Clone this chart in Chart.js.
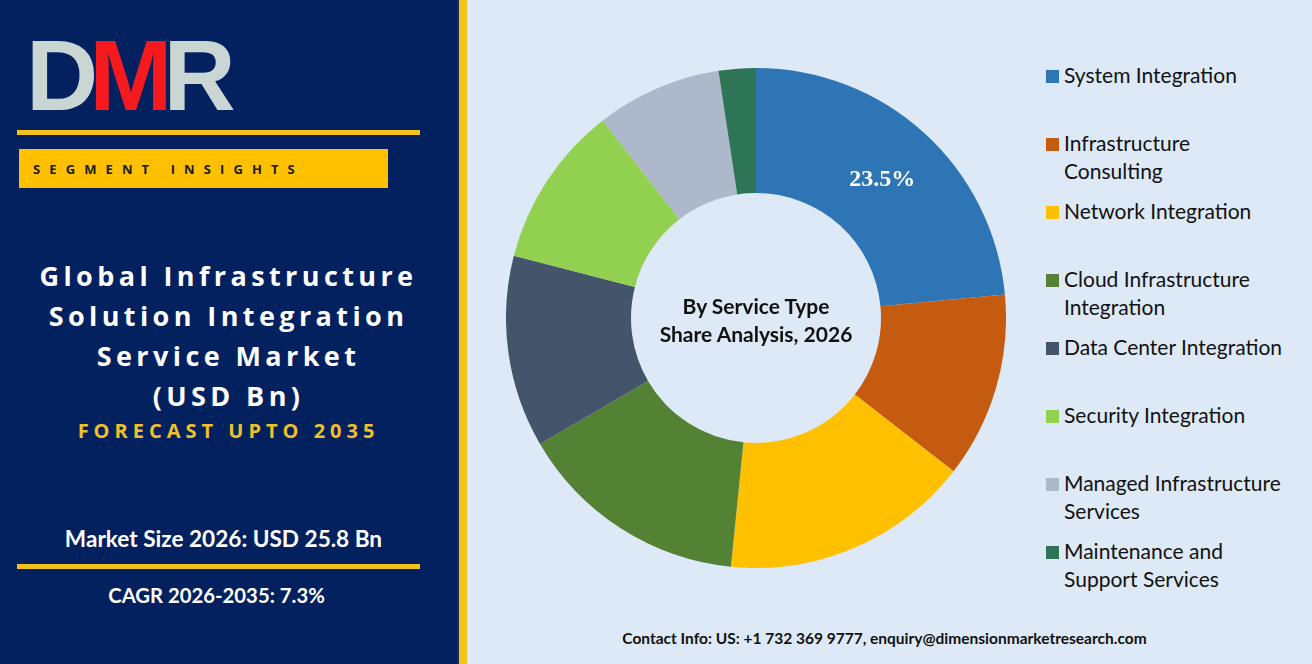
<!DOCTYPE html>
<html>
<head>
<meta charset="utf-8">
<script src="https://cdn.jsdelivr.net/npm/chart.js@4.4.1/dist/chart.umd.min.js"></script>
<style>
  html, body { margin: 0; padding: 0; }
  body { width: 1312px; height: 664px; position: relative; overflow: hidden; background: #dde9f6; font-family: Lato, "Open Sans", sans-serif; }
  #left { position: absolute; left: 0; top: 0; width: 457px; height: 664px; background: #03205f; }
  #edge { position: absolute; left: 457px; top: 0; width: 2px; height: 664px; background: #1d2a4a; }
  #goldbar { position: absolute; left: 459px; top: 0; width: 8px; height: 664px; background: #f5c216; }
  #logo { position: absolute; left: 26px; top: 20px; font-family: "Liberation Sans", Arial, sans-serif; font-weight: bold; font-size: 100px; letter-spacing: -9px; line-height: 110px; }
  .line { position: absolute; left: 17px; width: 403px; height: 5px; background: #f4c21c; }
  #seg { position: absolute; left: 19px; top: 149px; width: 369px; height: 39px; background: #ffc000; }
  #seg span { position: absolute; left: 14px; top: 11px; font-family: "Open Sans", sans-serif; font-weight: bold; font-size: 13px; letter-spacing: 9.1px; color: #1a1a1a; }
  #title { position: absolute; left: 0; width: 457px; top: 256px; text-align: center; color: #fff; font-family: "Open Sans", sans-serif; font-weight: bold; font-size: 27px; letter-spacing: 4.4px; line-height: 40px; }
  #forecast { position: absolute; left: 0; width: 457px; top: 417px; text-align: center; color: #f0c02a; font-family: "Open Sans", sans-serif; font-weight: bold; font-size: 20px; letter-spacing: 5px; }
  .stat { position: absolute; left: 0; width: 447px; text-align: center; color: #fff; font-weight: bold; }
  #chartBox { position: absolute; left: 506px; top: 68px; width: 500px; height: 500px; }
  #center { position: absolute; left: 606px; width: 300px; top: 292px; text-align: center; font-weight: bold; font-size: 21px; line-height: 28px; color: #111; }
  #legend { position: absolute; left: 1046px; top: 61px; }
  .item { position: relative; height: 68px; }
  .item i { position: absolute; left: 0; top: 9px; width: 13px; height: 13px; }
  .item div { position: absolute; left: 18px; top: 0; font-size: 21px; line-height: 28px; color: #111; white-space: nowrap; }
  #contact { position: absolute; left: 457px; width: 855px; top: 629px; text-align: center; font-weight: bold; font-size: 15.5px; color: #111; }
</style>
</head>
<body>
<div id="left"></div>
<div id="edge"></div>
<div id="goldbar"></div>
<div id="logo"><span style="color:#c9d6d4">D</span><span style="color:#f41a1e">M</span><span style="color:#c9d6d4">R</span></div>
<div class="line" style="top:130px"></div>
<div id="seg"><span>SEGMENT INSIGHTS</span></div>
<div id="title">Global Infrastructure<br>Solution Integration<br>Service Market<br>(USD Bn)</div>
<div id="forecast">FORECAST UPTO 2035</div>
<div class="stat" style="top:525px; font-size:22.6px">Market Size 2026: USD 25.8 Bn</div>
<div class="line" style="top:564px"></div>
<div class="stat" style="top:583px; left:-7px; font-size:20.3px">CAGR 2026-2035: 7.3%</div>

<div id="chartBox"><canvas id="donut"></canvas></div>
<div id="center">By Service Type<br>Share Analysis, 2026</div>
<div id="legend"></div>
<div id="contact">Contact Info: US: +1 732 369 9777, enquiry@dimensionmarketresearch.com</div>

<script>
// segment names (legend lines split with |)
var segments = [
  "System Integration",
  "Infrastructure|Consulting",
  "Network Integration",
  "Cloud Infrastructure|Integration",
  "Data Center Integration",
  "Security Integration",
  "Managed Infrastructure|Services",
  "Maintenance and|Support Services"
];

// share in %, 2026 (only the first one is printed)
var shares = [23.5, 12.0, 16.1, 15.0, 12.4, 10.5, 8.1, 2.4];

var colors = ["#2e75b6", "#c55a11", "#ffc000", "#548235", "#44546a", "#92d050", "#adb9ca", "#2e7557"];

// which slices get a printed value
var labelled = [true, false, false, false, false, false, false, false];

// legend html from the arrays
var legendEl = document.getElementById("legend");
segments.forEach(function(name, i) {
  var item = document.createElement("div");
  item.className = "item";
  item.innerHTML = '<i style="background:' + colors[i] + '"></i><div>' + name.split("|").join("<br>") + "</div>";
  legendEl.appendChild(item);
});

// prints the share inside the slice
var sliceLabels = {
  id: "sliceLabels",
  afterDatasetsDraw: function(chart) {
    var ctx = chart.ctx;
    var arcs = chart.getDatasetMeta(0).data;
    ctx.save();
    ctx.fillStyle = "#ffffff";
    ctx.font = "bold 24px 'Liberation Serif', 'Times New Roman', serif";
    ctx.textAlign = "center";
    ctx.textBaseline = "middle";
    arcs.forEach(function(arc, i) {
      if (!labelled[i]) return;
      var p = arc.tooltipPosition();
      ctx.fillText(shares[i].toFixed(1) + "%", p.x, p.y);
    });
    ctx.restore();
  }
};

new Chart(document.getElementById("donut"), {
  type: "doughnut",
  data: {
    labels: segments.map(function(s) { return s.replace("|", " "); }),
    datasets: [{
      data: shares,
      backgroundColor: colors,
      borderWidth: 0
    }]
  },
  options: {
    responsive: true,
    maintainAspectRatio: false,
    animation: false,
    cutout: "50%",
    layout: { padding: 0 },
    plugins: {
      legend: { display: false },
      tooltip: { enabled: false }
    }
  },
  plugins: [sliceLabels]
});
</script>
</body>
</html>
